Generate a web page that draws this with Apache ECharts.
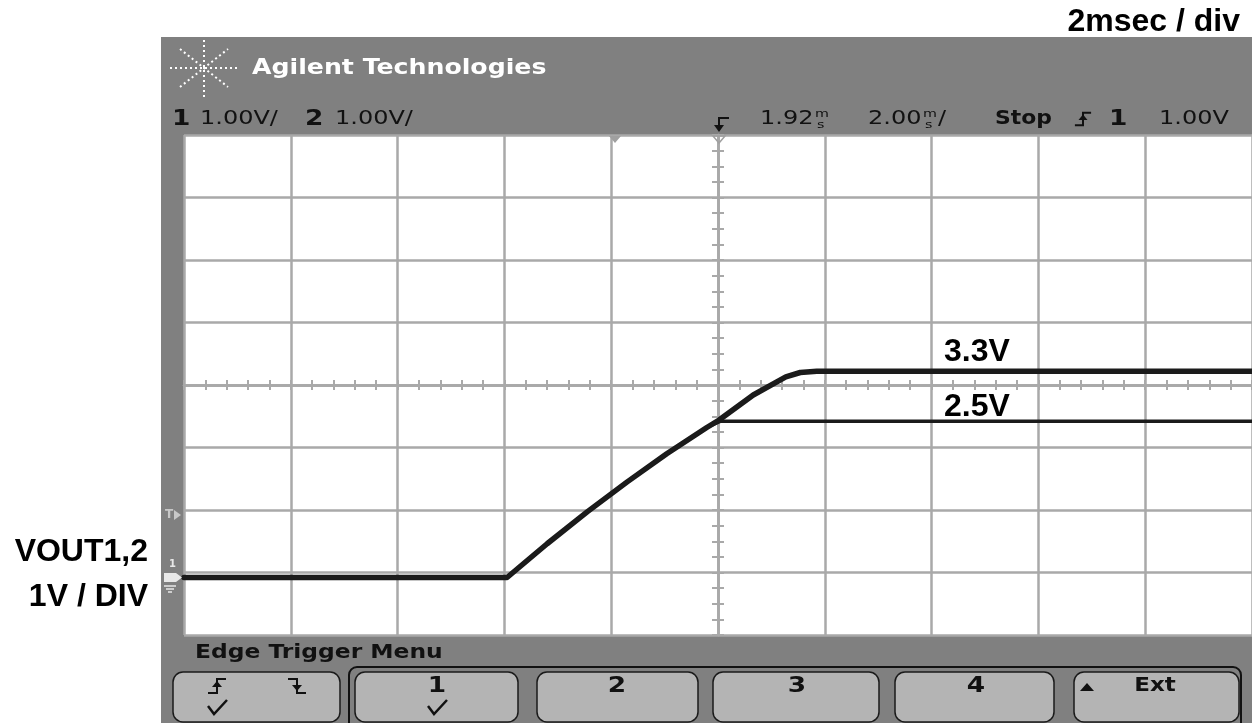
<!DOCTYPE html>
<html>
<head>
<meta charset="utf-8">
<title>VOUT1,2 start-up</title>
<script src="https://cdn.jsdelivr.net/npm/echarts@6/dist/echarts.min.js"></script>
<style>
    html, body { margin: 0; padding: 0; background: #ffffff; }
    #main { width: 1252px; height: 723px; }
</style>
</head>
<body>
<div id="main"></div>
<script>
    // time is ms from the left edge of the screen (2 ms/div, 10 div)
    var ch1Time  = [0, 6.05, 6.80, 7.55, 8.30, 9.04, 9.79, 10.02, 10.66, 11.27, 11.54, 11.85, 20];
    var ch1Volts = [0, 0, 0.54, 1.05, 1.53, 1.98, 2.40, 2.52, 2.92, 3.21, 3.28, 3.3, 3.3];
    var ch2Time  = [0, 6.05, 6.80, 7.55, 8.30, 9.04, 9.79, 10.05, 20];
    var ch2Volts = [0, 0, 0.54, 1.05, 1.53, 1.98, 2.40, 2.5, 2.5];
    var levelLabels = ['3.3V', '2.5V'];
    var levelLabelTime = 14.85;
    var softKeys = ['2', '3', '4'];

    var ch1 = ch1Time.map(function (t, i) { return [t, ch1Volts[i]]; });
    var ch2 = ch2Time.map(function (t, i) { return [t, ch2Volts[i]]; });

    var GRID = '#a9a9a9';
    var SCOPE_FONT = 'DejaVu Sans';
    var OUT_FONT = 'Liberation Sans';

    function scopeText(x, y, text, size, bold, opt) {
        opt = opt || {};
        return {
            type: 'text', x: x, y: y, z: 20, scaleX: opt.scaleX || 1.2,
            style: {
                text: text, fill: opt.fill || '#111', fontSize: size,
                fontWeight: bold ? 'bold' : 'normal', fontFamily: SCOPE_FONT,
                align: opt.align || 'left', verticalAlign: 'middle'
            }
        };
    }
    function outText(x, y, text) {
        return {
            type: 'text', x: x, y: y, z: 20,
            style: {
                text: text, fill: '#000', fontSize: 32, fontWeight: 'bold',
                fontFamily: OUT_FONT, align: 'right', verticalAlign: 'middle'
            }
        };
    }
    function line(points, color, width, dash) {
        return {
            type: 'polyline', z: 20, shape: {points: points},
            style: {stroke: color, lineWidth: width, fill: null, lineDash: dash || null}
        };
    }
    function poly(points, fill) {
        return {type: 'polygon', z: 20, shape: {points: points}, style: {fill: fill}};
    }
    function edge(x, y, s, rising) {
        var a = rising ? 1 : -1;
        return [
            line([[x - 9 * s, y + 7 * s * a], [x, y + 7 * s * a], [x, y - 7 * s * a], [x + 9 * s, y - 7 * s * a]], '#111', 2),
            poly([[x - 5 * s, y + 1 * s * a], [x + 5 * s, y + 1 * s * a], [x, y - 5 * s * a]], '#111')
        ];
    }
    function check(x, y) {
        return line([[x - 9, y - 3], [x - 3, y + 5], [x + 10, y - 9]], '#111', 2.5);
    }
    function button(x, w) {
        return {
            type: 'rect', z: 15, shape: {x: x, y: 672, width: w, height: 50, r: 10},
            style: {fill: '#b4b4b4', stroke: '#1a1a1a', lineWidth: 1.5}
        };
    }

    var graphics = [
        // bezel
        {type: 'rect', z: -10, shape: {x: 161, y: 37, width: 1091, height: 686}, style: {fill: '#808080'}},
        // logo star
        line([[170, 68], [238, 68]], '#fff', 2, [2, 3]),
        line([[204, 40], [204, 97]], '#fff', 2, [2, 3]),
        line([[180, 49], [228, 87]], '#fff', 2, [2, 3]),
        line([[180, 87], [228, 49]], '#fff', 2, [2, 3]),
        scopeText(252, 69, 'Agilent Technologies', 21, true, {fill: '#ffffff'}),
        // status line
        scopeText(172, 119, '1', 22, true),
        scopeText(200, 119, '1.00V/', 20, false),
        scopeText(305, 119, '2', 22, true),
        scopeText(335, 119, '1.00V/', 20, false),
        scopeText(760, 119, '1.92', 20, false),
        scopeText(815, 114, 'm', 11, false, {scaleX: 1.3}),
        scopeText(817, 125, 's', 11, false, {scaleX: 1.3}),
        scopeText(868, 119, '2.00', 20, false),
        scopeText(923, 114, 'm', 11, false, {scaleX: 1.3}),
        scopeText(925, 125, 's', 11, false, {scaleX: 1.3}),
        scopeText(938, 119, '/', 20, false),
        scopeText(995, 119, 'Stop', 19, true, {scaleX: 1.15}),
        scopeText(1109, 119, '1', 22, true),
        scopeText(1159, 119, '1.00V', 20, false),
        // trigger markers
        line([[729, 118], [719, 118], [719, 127]], '#111', 2),
        poly([[714, 125], [724, 125], [719, 132]], '#111'),
        poly([[609, 136], [621, 136], [615, 143]], '#a0a0a0'),
        {type: 'polygon', z: 20, shape: {points: [[713, 136], [725, 136], [719, 143]]},
            style: {fill: null, stroke: '#a0a0a0', lineWidth: 1.5}},
        // left markers
        scopeText(165, 515, 'T', 12, true, {fill: '#c8c8c8', scaleX: 1}),
        poly([[174, 510], [181, 515], [174, 520]], '#c8c8c8'),
        scopeText(169, 564, '1', 10, true, {fill: '#e8e8e8', scaleX: 1}),
        poly([[164, 573], [176, 573], [182, 577.5], [176, 582], [164, 582]], '#e8e8e8'),
        line([[164, 586], [176, 586]], '#e8e8e8', 1.5),
        line([[166, 589], [174, 589]], '#e8e8e8', 1.5),
        line([[168, 592], [172, 592]], '#e8e8e8', 1.5),
        // softkey menu
        scopeText(195, 653, 'Edge Trigger Menu', 19, true, {scaleX: 1.23}),
        {type: 'rect', z: 14, shape: {x: 349, y: 667, width: 892, height: 70, r: 8},
            style: {fill: null, stroke: '#111', lineWidth: 2}},
        button(173, 167),
        button(355, 163),
        button(537, 161),
        button(713, 166),
        button(895, 159),
        button(1074, 165),
        scopeText(437, 686, '1', 22, true, {align: 'center'}),
        check(217, 709),
        check(437, 709),
        scopeText(1155, 686, 'Ext', 20, true, {align: 'center', scaleX: 1.15}),
        poly([[1080, 691], [1094, 691], [1087, 683]], '#111'),
        // outside annotations
        outText(1240, 22, '2msec / div'),
        outText(148, 552, 'VOUT1,2'),
        outText(148, 597, '1V / DIV')
    ];
    graphics = graphics.concat(edge(217, 686, 1, true), edge(297, 686, 1, false), edge(1083, 119, 0.9, true));
    var keyX = [617, 797, 976];
    softKeys.forEach(function (k, i) {
        graphics.push(scopeText(keyX[i], 686, k, 22, true, {align: 'center'}));
    });

    // centre cross-hair axes (ticks on both sides of the line)
    function crossX(inside) {
        return {
            type: 'value', min: -5, max: 5, interval: 1,
            axisLine: {show: true, onZero: true, onZeroAxisIndex: 1, lineStyle: {color: GRID, width: 2.5}},
            axisTick: {show: true, inside: inside, length: 5, lineStyle: {color: GRID, width: 2}},
            minorTick: {show: true, splitNumber: 5, length: 5, lineStyle: {color: GRID, width: 2}},
            axisLabel: {show: false}, splitLine: {show: false}
        };
    }
    function crossY(inside) {
        return {
            type: 'value', min: -4, max: 4, interval: 1,
            axisLine: {show: true, onZero: true, onZeroAxisIndex: 1, lineStyle: {color: GRID, width: 2.5}},
            axisTick: {show: true, inside: inside, length: 6, lineStyle: {color: GRID, width: 2}},
            minorTick: {show: true, splitNumber: 4, length: 6, lineStyle: {color: GRID, width: 2}},
            axisLabel: {show: false}, splitLine: {show: false}
        };
    }

    var myChart = echarts.init(document.getElementById('main'));
    myChart.setOption({
        animation: false,
        backgroundColor: '#ffffff',
        grid: {
            left: 184, top: 135, right: 0, bottom: 88,
            show: true, backgroundColor: '#ffffff', borderWidth: 0,
            outerBoundsMode: 'none'
        },
        xAxis: [
            {type: 'value', min: 0, max: 20, show: false, splitLine: {show: false}},
            {
                type: 'value', min: -5, max: 5, interval: 1,
                axisLine: {show: false}, axisTick: {show: false}, axisLabel: {show: false},
                splitLine: {show: true, lineStyle: {color: GRID, width: 2.5}}
            },
            crossX(false),
            crossX(true)
        ],
        yAxis: [
            {type: 'value', min: -0.92, max: 7.08, show: false, splitLine: {show: false}},
            {
                type: 'value', min: -4, max: 4, interval: 1,
                axisLine: {show: false}, axisTick: {show: false}, axisLabel: {show: false},
                splitLine: {show: true, lineStyle: {color: GRID, width: 2.5}}
            },
            crossY(false),
            crossY(true)
        ],
        graphic: {elements: graphics},
        series: [
            {
                name: 'VOUT1', type: 'line', xAxisIndex: 0, yAxisIndex: 0,
                data: ch1, symbol: 'none', z: 5,
                lineStyle: {color: '#1b1b1b', width: 5.5, join: 'round', cap: 'round'},
                markPoint: {
                    symbol: 'circle', symbolSize: 0,
                    label: {
                        show: true, position: 'inside', offset: [0, -19],
                        color: '#000', fontSize: 32, fontWeight: 'bold', fontFamily: OUT_FONT
                    },
                    data: [{coord: [levelLabelTime, ch1Volts[ch1Volts.length - 1]], value: levelLabels[0]}]
                }
            },
            {
                name: 'VOUT2', type: 'line', xAxisIndex: 0, yAxisIndex: 0,
                data: ch2, symbol: 'none', z: 6,
                lineStyle: {color: '#1b1b1b', width: 3.5, join: 'round', cap: 'round'},
                markPoint: {
                    symbol: 'circle', symbolSize: 0,
                    label: {
                        show: true, position: 'inside', offset: [0, -14],
                        color: '#000', fontSize: 32, fontWeight: 'bold', fontFamily: OUT_FONT
                    },
                    data: [{coord: [levelLabelTime, ch2Volts[ch2Volts.length - 1]], value: levelLabels[1]}]
                }
            }
        ]
    });
    window.addEventListener('resize', function () {
        myChart.resize();
    });
</script>
</body>
</html>
